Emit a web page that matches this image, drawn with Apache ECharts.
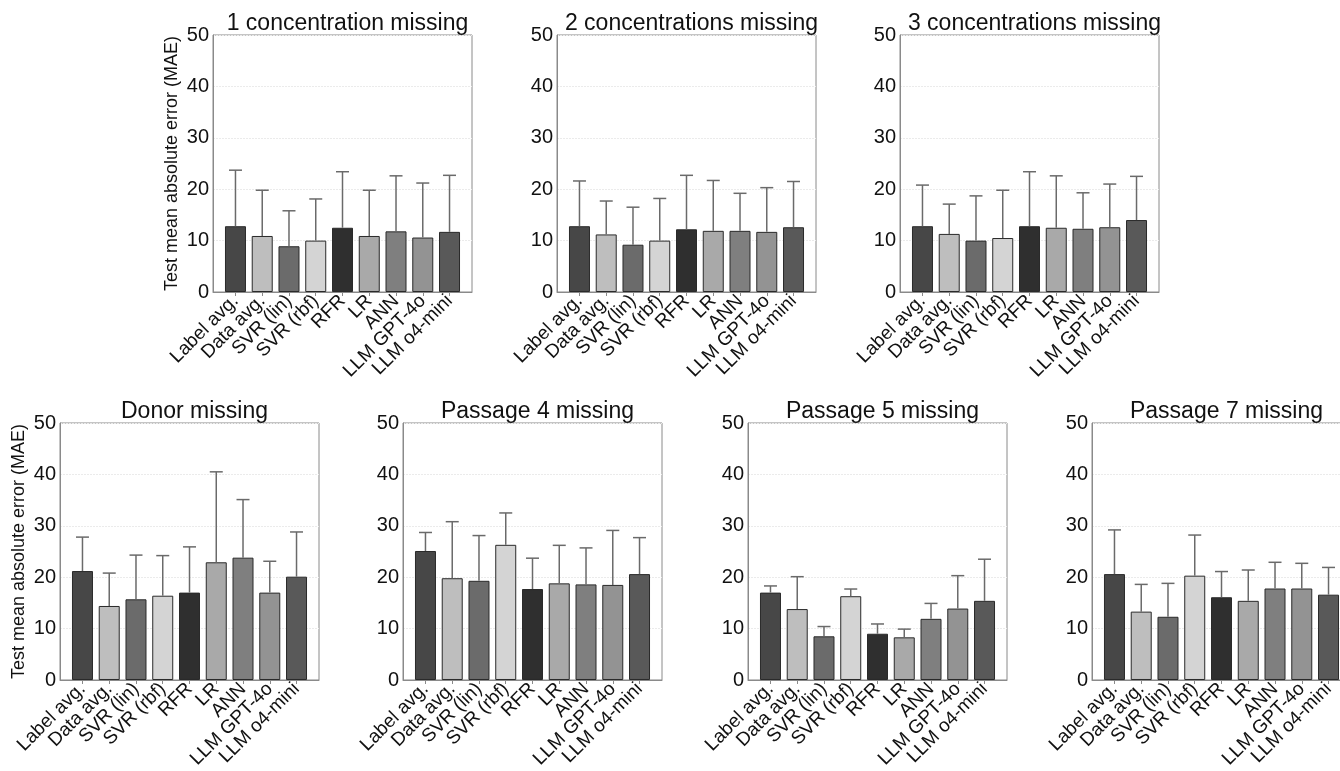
<!DOCTYPE html>
<html>
<head>
<meta charset="utf-8">
<title>MAE by missing group</title>
<script src="https://cdn.jsdelivr.net/npm/echarts@6/dist/echarts.min.js"></script>
<style>
html, body { margin: 0; padding: 0; background: #fff; overflow: hidden; }
/* a little wider than the window: the last panel runs off the right edge */
#chart { width: 1360px; height: 771px; }
</style>
</head>
<body>
<div id="chart"></div>
<script>
// categories and bar colours (one grey per model)
var models = ['Label avg.', 'Data avg.', 'SVR (lin)', 'SVR (rbf)', 'RFR', 'LR', 'ANN', 'LLM GPT-4o', 'LLM o4-mini'];
var barColors = ['#474747', '#bebebe', '#6b6b6b', '#d4d4d4', '#2f2f2f', '#a9a9a9', '#7f7f7f', '#939393', '#595959'];

var titles = ['1 concentration missing', '2 concentrations missing', '3 concentrations missing',
  'Donor missing', 'Passage 4 missing', 'Passage 5 missing', 'Passage 7 missing'];

// mean MAE per model
var maeConc1 = [12.8, 10.9, 8.9, 10.0, 12.5, 10.9, 11.8, 10.6, 11.7];
var maeConc2 = [12.8, 11.2, 9.2, 10.0, 12.2, 11.9, 11.9, 11.7, 12.6];
var maeConc3 = [12.8, 11.3, 10.0, 10.5, 12.8, 12.5, 12.3, 12.6, 14.0];
var maeDonor = [21.2, 14.4, 15.7, 16.4, 17.0, 22.9, 23.8, 17.0, 20.1];
var maePass4 = [25.1, 19.8, 19.3, 26.3, 17.7, 18.8, 18.6, 18.5, 20.6];
var maePass5 = [17.0, 13.8, 8.5, 16.3, 9.0, 8.3, 11.9, 13.9, 15.4];
var maePass7 = [20.6, 13.3, 12.3, 20.3, 16.1, 15.4, 17.8, 17.8, 16.6];

// top of the error bar (mean + sd)
var topConc1 = [23.7, 19.8, 15.8, 18.1, 23.4, 19.8, 22.6, 21.2, 22.7];
var topConc2 = [21.6, 17.7, 16.5, 18.2, 22.7, 21.7, 19.2, 20.3, 21.5];
var topConc3 = [20.8, 17.1, 18.7, 19.8, 23.4, 22.6, 19.3, 21.0, 22.5];
var topDonor = [27.8, 20.8, 24.3, 24.2, 25.9, 40.5, 35.1, 23.1, 28.8];
var topPass4 = [28.7, 30.8, 28.1, 32.5, 23.7, 26.2, 25.7, 29.1, 27.7];
var topPass5 = [18.3, 20.1, 10.4, 17.7, 10.9, 9.9, 14.9, 20.3, 23.5];
var topPass7 = [29.2, 18.6, 18.8, 28.2, 21.1, 21.4, 22.9, 22.7, 21.9];

var yTicks = [0, 10, 20, 30, 40, 50];

var means = [maeConc1, maeConc2, maeConc3, maeDonor, maePass4, maePass5, maePass7];
var tops = [topConc1, topConc2, topConc3, topDonor, topPass4, topPass5, topPass7];

// panel placement
var panels = [
  { left: 213, top: 35, yName: true },
  { left: 557, top: 35 },
  { left: 900, top: 35 },
  { left: 60, top: 423, yName: true },
  { left: 403, top: 423 },
  { left: 748, top: 423 },
  { left: 1092, top: 423 }
];
var PW = 259, PH = 257;
var FONT = '"Liberation Sans", Arial, Helvetica, sans-serif';
var idx = models.map(function (m, i) { return i; });

var chart = echarts.init(document.getElementById('chart'));
var option = { animation: false, textStyle: { fontFamily: FONT }, title: [], grid: [], xAxis: [], yAxis: [], series: [] };

panels.forEach(function (p, k) {
  option.title.push({
    text: titles[k], left: p.left + PW / 2, top: p.top - 28, textAlign: 'center',
    textStyle: { fontSize: 23, fontWeight: 'normal', color: '#111', fontFamily: FONT }
  });
  option.grid.push({
    left: p.left, top: p.top, width: PW, height: PH,
    show: true, borderColor: '#8a8a8a', borderWidth: 1, backgroundColor: 'transparent'
  });
  option.xAxis.push({
    type: 'value', gridIndex: k, min: -0.84, max: 8.84,
    axisLine: { show: true, onZero: false, lineStyle: { color: '#8a8a8a', width: 1 } },
    axisTick: { show: true, customValues: idx, length: 4, lineStyle: { color: '#8a8a8a' } },
    axisLabel: {
      customValues: idx, rotate: 45, margin: 6, fontSize: 19, color: '#111', fontFamily: FONT,
      formatter: function (v) { return models[Math.round(v)]; }
    },
    splitLine: { show: false }
  });
  option.yAxis.push({
    type: 'value', gridIndex: k, min: 0, max: 50, interval: 10,
    name: p.yName ? 'Test mean absolute error (MAE)' : '',
    nameLocation: 'middle', nameGap: 32,
    nameTextStyle: { fontSize: 18, color: '#111', fontFamily: FONT },
    axisLine: { show: true, onZero: false, lineStyle: { color: '#8a8a8a', width: 1 } },
    axisTick: { show: false },
    axisLabel: { fontSize: 20, color: '#111', margin: 4, fontFamily: FONT,
      customValues: yTicks },
    splitLine: { show: true, lineStyle: { color: '#ebebeb', width: 1, type: [2, 1] } }
  });
  option.series.push({
    type: 'bar', xAxisIndex: k, yAxisIndex: k, barWidth: 21,
    data: means[k].map(function (v, i) {
      return { value: [i, v], itemStyle: { color: barColors[i], borderColor: '#2a2a2a', borderWidth: 1 } };
    }),
    z: 2
  });
  option.series.push({
    type: 'custom', xAxisIndex: k, yAxisIndex: k, z: 3,
    data: means[k].map(function (v, i) { return [i, v, tops[k][i]]; }),
    renderItem: function (params, api) {
      var lo = api.coord([api.value(0), api.value(1)]);
      var hi = api.coord([api.value(0), api.value(2)]);
      var st = { stroke: '#6a6a6a', lineWidth: 1.5 };
      return {
        type: 'group', children: [
          { type: 'line', shape: { x1: lo[0], y1: lo[1], x2: hi[0], y2: hi[1] }, style: st },
          { type: 'line', shape: { x1: hi[0] - 6.5, y1: hi[1], x2: hi[0] + 6.5, y2: hi[1] }, style: st }
        ]
      };
    }
  });
});

chart.setOption(option);
</script>
</body>
</html>
